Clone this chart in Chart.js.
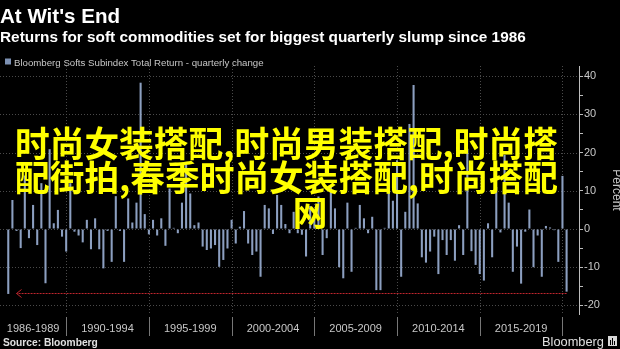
<!DOCTYPE html>
<html>
<head>
<meta charset="utf-8">
<script src="https://cdn.jsdelivr.net/npm/chart.js@4.4.1/dist/chart.umd.min.js"></script>
<style>
  html, body { margin: 0; padding: 0; background: #000; }
  #wrap { width: 620px; height: 349px; position: relative; overflow: hidden; }
</style>
</head>
<body>
<div id="wrap"><canvas id="chart" width="620" height="349"></canvas></div>
<script>
// quarter-end points on the x axis, 1985 Q4 (= start of 1986) to 2020 Q4
const quarterLabels = [];
for (let y = 1985; y <= 2020; y++) {
  for (let q = 1; q <= 4; q++) {
    if (y === 1985 && q < 4) continue;
    quarterLabels.push(y + " Q" + q);
  }
}

// Bloomberg Softs Subindex total return, quarterly change (%), 1986 Q2 .. 2020 Q1
const quarterlyReturns = [
  -17, 7.6, -0.5, -5, 14, -2.4, 6.3, -4.2, 12, -14.2,
  20.9, 1.5, 5, -2, -5.9, 12, -0.7, -1.7, -3.5, 2.4,
  -5.3, 2.8, -5.3, -10.3, -0.5, -8.6, 8.6, -0.5, -8.6, 8,
  1.7, 6.9, 38.3, 3.9, -1.4, 2.4, -1.7, 2.8, -4.4, 10.6,
  0.3, -1.1, 6.9, 17, 9.3, 1, 1.7, -4.6, -5.5, -5.1,
  -4.2, -9.9, -8.1, -5.1, 2.4, -3.8, 0.6, 4.7, -3.8, -6.8,
  -5.9, -12.5, 6.3, 5.4, -1.3, 8.9, 6.3, 1.3,
  -1.1, 4.5, -1.1, -1.5, -7.2, 6, 2.8, 8.5, -6.8, -2.4,
  11.5, 5.4, -10, -12.9, 6.9, -11.2, 0.3, 6.3, 2.8, -1.1,
  3.2, -16, -16, 0.3, 16, 7.4, 18, -12.5, 4.5, 27.5,
  37.7, 6.7, -7.4, -8.8, -5.9, -2, -11.8, -2.9, -6.8, -2.9,
  -8.3, 1, -6.8, 21, -5.8, -9.4, -11.8, -13.5, 1.5, -7.4,
  11, -0.9, 19.4, 6.9, -11.2, -4.6, -14.3, -0.7, 5.1, -10,
  -1.7, -12.5, 0.8, 0.4, -0.3, -8.6, 13.9, -16.4
];
const firstDataQuarter = "1986 Q2";

const periodLabels = ["1986-1989", "1990-1994", "1995-1999", "2000-2004", "2005-2009", "2010-2014", "2015-2019"];
const periodEnds = ["1989 Q4", "1994 Q4", "1999 Q4", "2004 Q4", "2009 Q4", "2014 Q4", "2019 Q4"];

const yTickValues = [-20, -15, -10, -5, 0, 5, 10, 15, 20, 25, 30, 35, 40];
const yMin = -22.25;
const yMax = 42.67;

// red "since 1986" marker
const slumpLevel = -16.8;
const slumpFrom = "2020 Q1";
const slumpTo = "1986 Q4";

const titleText = "At Wit's End";
const subtitleText = "Returns for soft commodities set for biggest quarterly slump since 1986";
const legendText = "Bloomberg Softs Subindex Total Return - quarterly change";
const overlayLines = ["时尚女装搭配,时尚男装搭配,时尚搭", "配街拍,春季时尚女装搭配,时尚搭配", "网"];

const barColor = "#8c9fc0";
const textGray = "#c8c8c8";

const seriesData = quarterLabels.map(() => null);
const startIdx = quarterLabels.indexOf(firstDataQuarter);
quarterlyReturns.forEach((v, i) => { seriesData[startIdx + i] = v; });

// pick a font size so the text spans the given width
function fitSize(ctx, text, weight, family, width) {
  ctx.font = weight + " 100px " + family;
  return 100 * width / ctx.measureText(text).width;
}

const decorPlugin = {
  id: "decor",
  beforeDraw(chart) {
    const ctx = chart.ctx;
    ctx.save();
    ctx.fillStyle = "#000";
    ctx.fillRect(0, 0, chart.width, chart.height);

    ctx.fillStyle = "#fff";
    ctx.textBaseline = "alphabetic";
    let s = fitSize(ctx, titleText, "bold", "'Liberation Sans'", 120);
    ctx.font = "bold " + s + "px 'Liberation Sans'";
    ctx.fillText(titleText, 0, 23);

    s = fitSize(ctx, subtitleText, "bold", "'Liberation Sans'", 526);
    ctx.font = "bold " + s + "px 'Liberation Sans'";
    ctx.fillText(subtitleText, 0, 41.5);

    ctx.fillStyle = "#7d91b3";
    ctx.fillRect(5, 58.5, 6, 6);
    ctx.fillStyle = textGray;
    s = fitSize(ctx, legendText, "normal", "'Liberation Sans'", 250);
    ctx.font = s + "px 'Liberation Sans'";
    ctx.fillText(legendText, 14, 65.5);
    ctx.restore();
  },
  beforeDatasetsDraw(chart) {
    const ctx = chart.ctx;
    const area = chart.chartArea;
    const xs = chart.scales.x;
    const ys = chart.scales.y;
    ctx.save();
    ctx.strokeStyle = "#4a4a4a";
    ctx.lineWidth = 1;
    ctx.setLineDash([1, 2]);
    // horizontal grid every 10
    yTickValues.filter(v => v % 10 === 0).forEach(v => {
      const y = Math.round(ys.getPixelForValue(v)) + 0.5;
      ctx.beginPath();
      ctx.moveTo(area.left, y);
      ctx.lineTo(area.right, y);
      ctx.stroke();
    });
    // vertical grid at each 5-year boundary
    periodEnds.forEach(lbl => {
      const x = Math.round(xs.getPixelForValue(quarterLabels.indexOf(lbl))) + 0.5;
      ctx.beginPath();
      ctx.moveTo(x, area.top);
      ctx.lineTo(x, area.bottom);
      ctx.stroke();
    });
    ctx.restore();
  },
  afterDatasetsDraw(chart) {
    const ctx = chart.ctx;
    const xs = chart.scales.x;
    const ys = chart.scales.y;
    const y = Math.round(ys.getPixelForValue(slumpLevel)) + 0.5;
    const x1 = xs.getPixelForValue(quarterLabels.indexOf(slumpFrom));
    const x0 = xs.getPixelForValue(quarterLabels.indexOf(slumpTo));
    ctx.save();
    ctx.strokeStyle = "#c0262e";
    ctx.lineWidth = 1;
    ctx.setLineDash([2, 1]);
    ctx.beginPath();
    ctx.moveTo(x1, y);
    ctx.lineTo(x0, y);
    ctx.stroke();
    ctx.setLineDash([]);
    ctx.beginPath();
    ctx.moveTo(x0 + 5, y - 4);
    ctx.lineTo(x0, y);
    ctx.lineTo(x0 + 5, y + 4);
    ctx.stroke();
    ctx.restore();
  },
  afterDraw(chart) {
    const ctx = chart.ctx;
    const xs = chart.scales.x;
    ctx.save();

    // period separators and labels under the plot
    ctx.strokeStyle = "#777";
    ctx.lineWidth = 1;
    let prev = xs.getPixelForValue(0);
    ctx.font = "11px 'Liberation Sans'";
    ctx.fillStyle = textGray;
    ctx.textAlign = "center";
    ctx.textBaseline = "alphabetic";
    periodEnds.forEach((lbl, i) => {
      const x = xs.getPixelForValue(quarterLabels.indexOf(lbl));
      const sx = Math.round(x) + 0.5;
      ctx.beginPath();
      ctx.moveTo(sx, 317);
      ctx.lineTo(sx, 336);
      ctx.stroke();
      ctx.fillText(periodLabels[i], (prev + x) / 2, 332);
      prev = x;
    });

    // footer
    ctx.textAlign = "left";
    ctx.fillStyle = "#e0e0e0";
    let s = fitSize(ctx, "Source: Bloomberg", "bold", "'Liberation Sans'", 95);
    ctx.font = "bold " + s + "px 'Liberation Sans'";
    ctx.fillText("Source: Bloomberg", 3, 346);
    s = fitSize(ctx, "Bloomberg", "normal", "'Liberation Sans'", 62);
    ctx.font = s + "px 'Liberation Sans'";
    ctx.fillText("Bloomberg", 542, 346);
    ctx.fillStyle = "#d8d8d8";
    ctx.fillRect(608, 336, 9, 10);
    ctx.fillStyle = "#000";
    ctx.fillRect(610, 340, 1, 5);
    ctx.fillRect(612, 338, 1, 7);
    ctx.fillRect(614, 341, 1, 4);

    // overlay caption
    ctx.fillStyle = "#ffff00";
    const fam = "'Noto Sans CJK SC'";
    s = fitSize(ctx, overlayLines[0], "bold", fam, 543);
    ctx.font = "bold " + s + "px " + fam;
    ctx.textAlign = "left";
    ctx.fillText(overlayLines[0], 15, 157);
    ctx.fillText(overlayLines[1], 15, 191);
    ctx.textAlign = "center";
    ctx.fillText(overlayLines[2], 310, 226);
    ctx.restore();
  }
};

new Chart(document.getElementById("chart"), {
  type: "bar",
  data: {
    labels: quarterLabels,
    datasets: [{
      label: legendText,
      data: seriesData,
      backgroundColor: barColor,
      borderWidth: 0,
      barPercentage: 0.5,
      categoryPercentage: 1
    }]
  },
  options: {
    responsive: false,
    animation: false,
    devicePixelRatio: 1,
    layout: { padding: { left: -6.7, right: 0, top: 66, bottom: 35 } },
    plugins: {
      legend: { display: false },
      tooltip: { enabled: false }
    },
    scales: {
      x: {
        type: "category",
        offset: false,
        display: false,
        grid: { display: false }
      },
      y: {
        position: "right",
        min: yMin,
        max: yMax,
        afterBuildTicks(scale) {
          scale.ticks = yTickValues.map(v => ({ value: v }));
        },
        afterFit(scale) {
          scale.width = 41;
        },
        grid: { drawOnChartArea: false, drawTicks: true, tickLength: 4, tickColor: "#bdbdbd" },
        border: { display: true, color: "#bdbdbd", width: 1 },
        ticks: {
          color: textGray,
          padding: 1,
          font: { family: "'Liberation Sans'", size: 11 },
          callback: v => (v % 10 === 0 ? String(v) : "")
        },
        title: {
          display: true,
          text: "Percent",
          color: textGray,
          font: { family: "'Liberation Sans'", size: 12 },
          padding: { top: -4, bottom: 0 }
        }
      }
    }
  },
  plugins: [decorPlugin]
});
</script>
</body>
</html>
